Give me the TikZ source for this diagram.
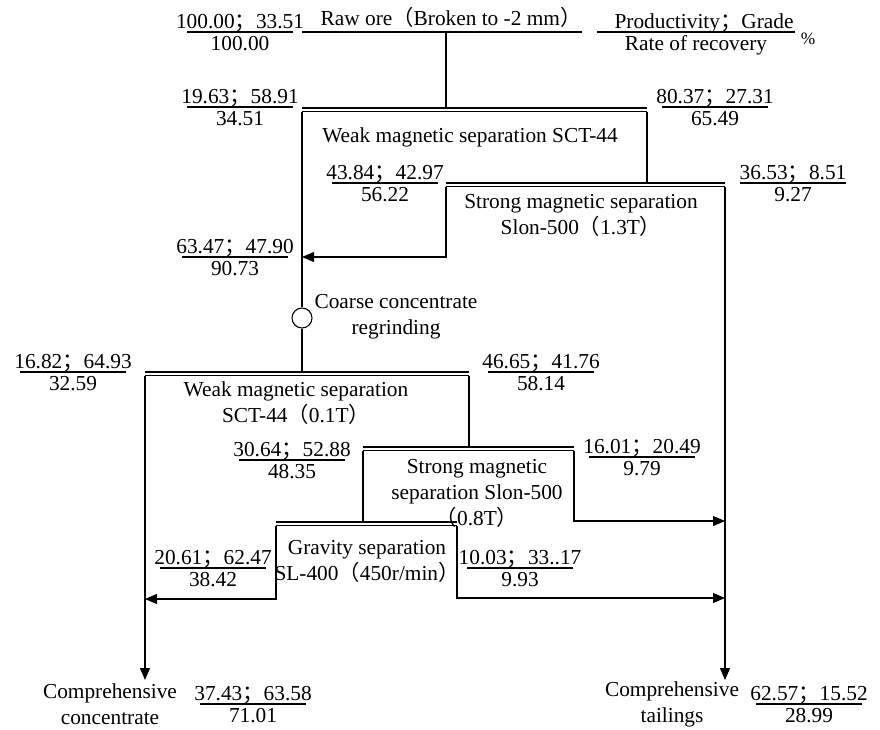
\documentclass[tikz,border=0pt]{standalone}
\usepackage{fontspec}
\setmainfont{Liberation Serif}
\newfontfamily\cjk{Noto Sans CJK SC}
\usetikzlibrary{arrows.meta}
\newcommand{\fsemi}{{\cjk ；}}
\newcommand{\flp}{{\cjk （}}
\newcommand{\frp}{{\cjk ）}}

\begin{document}
\begin{tikzpicture}[x=0.75pt,y=-0.75pt,
    every node/.style={font=\fontsize{16}{19.5}\selectfont,inner sep=0pt},
    num/.style={anchor=base},
    lbl/.style={align=center},
    pipe/.style={line width=0.8pt},
    flow/.style={line width=0.8pt,-{Triangle[length=9pt,width=7.5pt]}},
    bar/.style={line width=0.8pt},
    feedbar/.style={line width=2.2pt}]
  \useasboundingbox (0,0) rectangle (880,729);
  % corners of the process tops
  \coordinate (oreL) at (302,32);
  \coordinate (oreR) at (582,32);
  \coordinate (oreM) at (446,32);
  \coordinate (w1L) at (302,108);
  \coordinate (w1R) at (647,108);
  \coordinate (w1M) at (446,108);
  \coordinate (s1L) at (446,183);
  \coordinate (s1R) at (725,183);
  \coordinate (s1M) at (647,183);
  \coordinate (s1turn) at (446,257);
  \coordinate (mixIn) at (302,257);
  \node[draw,circle,pipe,minimum size=15pt] (grind) at (302,318) {};
  \coordinate (w2L) at (145,372);
  \coordinate (w2R) at (469,372);
  \coordinate (w2M) at (302,372);
  \coordinate (s2L) at (363,447);
  \coordinate (s2R) at (574,447);
  \coordinate (s2M) at (469,447);
  \coordinate (s2turn) at (574,521);
  \coordinate (s2out) at (725,521);
  \coordinate (gL) at (276,522);
  \coordinate (gR) at (457,522);
  \coordinate (gM) at (363,522);
  \coordinate (gLturn) at (276,599);
  \coordinate (gLout) at (145,599);
  \coordinate (gRturn) at (457,598);
  \coordinate (gRout) at (725,598);
  \coordinate (concEnd) at (145,680);
  \coordinate (tailEnd) at (725,680);

  \draw[feedbar] (oreL) -- (oreR);
  \draw[pipe] (oreM) -- (w1M);
  \foreach \b in {w1,s1,w2,s2,g} {
    \draw[line width=1.6pt] (\b L) -- (\b R);
    \draw[line width=0.8pt] ([yshift=-2.8pt]\b L) -- ([yshift=-2.8pt]\b R);
  }
  \draw[pipe] ([yshift=-3pt]w1L) -- (grind);
  \draw[pipe] ([yshift=-3pt]w1R) -- (s1M);
  \draw[flow] ([yshift=-3pt]s1L) -- (s1turn) -- (mixIn);
  \draw[flow] ([yshift=-3pt]s1R) -- (tailEnd);
  \draw[pipe] (grind) -- (w2M);
  \draw[flow] ([yshift=-3pt]w2L) -- (concEnd);
  \draw[pipe] ([yshift=-3pt]w2R) -- (s2M);
  \draw[pipe] ([yshift=-3pt]s2L) -- (gM);
  \draw[flow] ([yshift=-3pt]s2R) -- (s2turn) -- (s2out);
  \draw[flow] ([yshift=-3pt]gL) -- (gLturn) -- (gLout);
  \draw[flow] ([yshift=-3pt]gR) -- (gRturn) -- (gRout);

  % process names
  \node[num] (ore) at (451,25) {Raw ore\flp Broken to -2 mm\frp};
  \node[num] (w1) at (470,142) {Weak magnetic separation SCT-44};
  \node[lbl] (s1) at (581,215) {Strong magnetic separation\\Slon-500\flp 1.3T\frp};
  \node[lbl] (regrind) at (396,317) {Coarse concentrate\\regrinding};
  \node[lbl] (w2) at (296,403) {Weak magnetic separation\\SCT-44\flp 0.1T\frp};
  \node[lbl] (s2) at (477,493) {Strong magnetic\\separation Slon-500\\\flp 0.8T\frp};
  \node[lbl] (grav) at (367,561) {Gravity separation\\SL-400\flp 450r/min\frp};
  \node[lbl] (concTxt) at (110,704) {Comprehensive\\concentrate};
  \node[lbl] (tailTxt) at (672,704) {Comprehensive\\tailings};

  % key
  \node[num] (key-u) at (704,28) {Productivity\fsemi Grade};
  \node[num] (key-d) at (696,50) {Rate of recovery};
  \draw[bar] (597,32) -- (795,32);
  \node[num,font=\fontsize{13}{15}\selectfont] (pct) at (808,44) {\%};

  % productivity; grade / recovery of each product
  \foreach \n/\x/\y/\t/\b in {
      rore/240/32/{100.00\fsemi 33.51}/100.00,
      rw1c/240/107/{19.63\fsemi 58.91}/34.51,
      rw1t/715/107/{80.37\fsemi 27.31}/65.49,
      rs1c/385/183/{43.84\fsemi 42.97}/56.22,
      rs1t/793/183/{36.53\fsemi 8.51}/9.27,
      rmix/235/257/{63.47\fsemi 47.90}/90.73,
      rw2c/73/372/{16.82\fsemi 64.93}/32.59,
      rw2t/541/372/{46.65\fsemi 41.76}/58.14,
      rs2c/292/460/{30.64\fsemi 52.88}/48.35,
      rs2t/642/457/{16.01\fsemi 20.49}/9.79,
      rgc/213/568/{20.61\fsemi 62.47}/38.42,
      rgt/520/568/{10.03\fsemi 33..17}/9.93,
      rconc/253/704/{37.43\fsemi 63.58}/71.01,
      rtail/809/704/{62.57\fsemi 15.52}/28.99} {
    \node[num] (\n-u) at (\x,\y-4) {\t};
    \node[num] (\n-d) at (\x,\y+18) {\b};
    \draw[bar] (\x-53,\y) -- (\x+53,\y);
  }
\end{tikzpicture}
\end{document}
